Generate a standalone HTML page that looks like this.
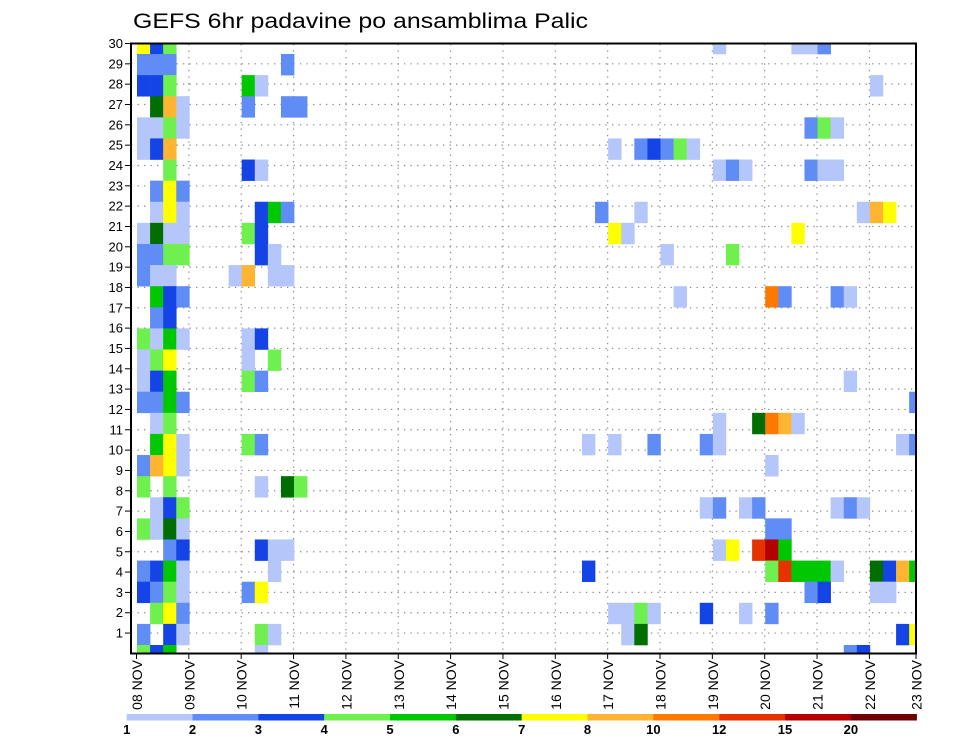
<!DOCTYPE html>
<html><head><meta charset="utf-8"><style>
html,body{margin:0;padding:0;background:#fff;}
svg{display:block;font-family:"Liberation Sans",sans-serif;}
</style></head><body>
<svg id="chart" width="960" height="742" viewBox="0 0 960 742" xmlns="http://www.w3.org/2000/svg">
<defs><clipPath id="plotclip"><rect x="131" y="43.5" width="785" height="610"/></clipPath></defs>
<rect x="0" y="0" width="960" height="742" fill="#fff"/>
<text x="133" y="28" font-size="21" textLength="455" lengthAdjust="spacingAndGlyphs" fill="#000">GEFS 6hr padavine po ansamblima Palic</text>
<g id="grid"></g>
<g id="cells" clip-path="url(#plotclip)"></g>
<rect x="131" y="43.5" width="785" height="610" fill="none" stroke="#000" stroke-width="2"/>
<g id="yaxis"></g>
<g id="xaxis"></g>
<g id="legend"></g>
</svg>
<script>
// level thresholds (mm) and colours
const levelLabels = ["1","2","3","4","5","6","7","8","10","12","15","20"];
const levelThresholds = [1,2,3,4,5,6,7,8,10,12,15,20];
const levelColors = ["#b4c6fa","#5f8cf5","#1444e6","#6ef04e","#00c800","#006e00","#ffff00","#ffb432","#ff7800","#e63200","#b40000","#6e0000"];
const memberLabels = [1,2,3,4,5,6,7,8,9,10,11,12,13,14,15,16,17,18,19,20,21,22,23,24,25,26,27,28,29,30];
const dayLabels = ["08 NOV","09 NOV","10 NOV","11 NOV","12 NOV","13 NOV","14 NOV","15 NOV","16 NOV","17 NOV","18 NOV","19 NOV","20 NOV","21 NOV","22 NOV","23 NOV"];
// cells: [row, 6h step, precipitation mm]
const precipCells = [
[29,0,7.5],[29,1,3.5],[29,2,4.5],[29,44,1.5],[29,50,1.5],[29,51,1.5],[29,52,2.5],
[28,0,2.5],[28,1,2.5],[28,2,2.5],[28,11,2.5],
[27,0,3.5],[27,1,3.5],[27,2,4.5],[27,8,5.5],[27,9,1.5],[27,56,1.5],
[26,1,6.5],[26,2,9],[26,3,1.5],[26,8,2.5],[26,11,2.5],[26,12,2.5],
[25,0,1.5],[25,1,1.5],[25,2,4.5],[25,3,1.5],[25,51,2.5],[25,52,4.5],[25,53,1.5],
[24,0,1.5],[24,1,3.5],[24,2,9],[24,36,1.5],[24,38,2.5],[24,39,3.5],[24,40,2.5],[24,41,4.5],[24,42,1.5],
[23,2,4.5],[23,8,3.5],[23,9,1.5],[23,44,1.5],[23,45,2.5],[23,46,1.5],[23,51,2.5],[23,52,1.5],[23,53,1.5],
[22,1,2.5],[22,2,7.5],[22,3,2.5],
[21,1,1.5],[21,2,7.5],[21,3,1.5],[21,9,3.5],[21,10,5.5],[21,11,2.5],[21,35,2.5],[21,38,1.5],[21,55,1.5],[21,56,9],[21,57,7.5],
[20,0,1.5],[20,1,6.5],[20,2,1.5],[20,3,1.5],[20,8,4.5],[20,9,3.5],[20,36,7.5],[20,37,1.5],[20,50,7.5],
[19,0,2.5],[19,1,2.5],[19,2,4.5],[19,3,4.5],[19,9,3.5],[19,10,1.5],[19,40,1.5],[19,45,4.5],
[18,0,2.5],[18,1,1.5],[18,2,1.5],[18,7,1.5],[18,8,9],[18,10,1.5],[18,11,1.5],
[17,1,5.5],[17,2,3.5],[17,3,2.5],[17,41,1.5],[17,48,11],[17,49,2.5],[17,53,2.5],[17,54,1.5],
[16,1,2.5],[16,2,3.5],
[15,0,4.5],[15,1,1.5],[15,2,5.5],[15,3,1.5],[15,8,1.5],[15,9,3.5],
[14,0,1.5],[14,1,4.5],[14,2,7.5],[14,8,1.5],[14,10,4.5],
[13,0,1.5],[13,1,3.5],[13,2,5.5],[13,8,4.5],[13,9,2.5],[13,54,1.5],
[12,0,2.5],[12,1,2.5],[12,2,5.5],[12,3,2.5],[12,59,2.5],
[11,1,1.5],[11,2,4.5],[11,44,1.5],[11,47,6.5],[11,48,11],[11,49,9],[11,50,1.5],
[10,1,5.5],[10,2,7.5],[10,3,1.5],[10,8,4.5],[10,9,2.5],[10,34,1.5],[10,36,1.5],[10,39,2.5],[10,43,2.5],[10,44,1.5],[10,58,1.5],[10,59,2.5],
[9,0,2.5],[9,1,9],[9,2,7.5],[9,3,1.5],[9,48,1.5],
[8,0,4.5],[8,2,4.5],[8,9,1.5],[8,11,6.5],[8,12,4.5],
[7,1,1.5],[7,2,3.5],[7,3,4.5],[7,43,1.5],[7,44,2.5],[7,46,1.5],[7,47,2.5],[7,53,1.5],[7,54,2.5],[7,55,1.5],
[6,0,4.5],[6,1,1.5],[6,2,6.5],[6,3,1.5],[6,48,2.5],[6,49,2.5],
[5,2,2.5],[5,3,3.5],[5,9,3.5],[5,10,1.5],[5,11,1.5],[5,44,1.5],[5,45,7.5],[5,47,13.5],[5,48,17.5],[5,49,5.5],
[4,0,2.5],[4,1,3.5],[4,2,5.5],[4,3,1.5],[4,10,1.5],[4,34,3.5],[4,48,4.5],[4,49,13.5],[4,50,5.5],[4,51,5.5],[4,52,5.5],[4,53,1.5],[4,56,6.5],[4,57,3.5],[4,58,9],[4,59,5.5],
[3,0,3.5],[3,1,2.5],[3,2,4.5],[3,3,1.5],[3,8,2.5],[3,9,7.5],[3,51,2.5],[3,52,3.5],[3,56,1.5],[3,57,1.5],
[2,1,4.5],[2,2,7.5],[2,3,2.5],[2,36,1.5],[2,37,1.5],[2,38,4.5],[2,39,1.5],[2,43,3.5],[2,46,1.5],[2,48,2.5],
[1,0,2.5],[1,2,3.5],[1,3,1.5],[1,9,4.5],[1,10,1.5],[1,37,1.5],[1,38,6.5],[1,58,3.5],[1,59,7.5],
[0,0,4.5],[0,1,3.5],[0,2,5.5],[0,9,1.5],[0,54,2.5],[0,55,3.5]
];

const NS = "http://www.w3.org/2000/svg";
function mk(tag, attrs, parent){ const e=document.createElementNS(NS,tag); for(const k in attrs) e.setAttribute(k,attrs[k]); parent.appendChild(e); return e; }
// axis functions
const dayW = 52.35, x0 = 137;
function xStep(s){ return x0 + s * dayW / 4; }
function xDay(d){ return Math.min(916, 136.5 + d * dayW); }
const rowH = 21.107;
function yRowTop(r){ return 645 - r * rowH; }
function yLabel(m){ return 43.5 + (30 - m) * 20.33; }
function colorFor(v){ let i=-1; for(let j=0;j<levelThresholds.length;j++){ if(v>=levelThresholds[j]) i=j; } return i<0?null:levelColors[i]; }

const grid = document.getElementById('grid');
memberLabels.forEach(m=>{ if(m>=30) return; const y=yLabel(m);
  const l=mk('line',{x1:131,x2:916,y1:y,y2:y,stroke:'#888','stroke-width':1.2,'stroke-dasharray':'1.3 5.2'},grid);
  
  
});
dayLabels.forEach((d,i)=>{ if(i===0||i===dayLabels.length-1) return; const x=xDay(i);
  const l=mk('line',{x1:x,x2:x,y1:44,y2:653,stroke:'#888','stroke-width':1.2,'stroke-dasharray':'1.3 5.2'},grid);
  
  
});

const cg = document.getElementById('cells');
precipCells.forEach(c=>{ const col=colorFor(c[2]); if(!col) return;
  const r=mk('rect',{x:xStep(c[1]),y:yRowTop(c[0]),width:dayW/4+0.3,height:rowH+0.3,fill:col},cg);
  
  
});

const ya=document.getElementById('yaxis');
memberLabels.forEach(m=>{ const y=yLabel(m);
  const t=mk('line',{x1:125,x2:131,y1:y,y2:y,stroke:'#000','stroke-width':1},ya);
  
  
  const tx=mk('text',{x:123,y:y+4.5,'font-size':13,'text-anchor':'end',fill:'#000'},ya);
  tx.textContent=m;
  
  
});

const xa=document.getElementById('xaxis');
dayLabels.forEach((d,i)=>{ const x=xDay(i);
  const t=mk('line',{x1:x,x2:x,y1:653,y2:659,stroke:'#000','stroke-width':1},xa);
  
  
  const tx=mk('text',{x:0,y:0,'font-size':14,'text-anchor':'end',fill:'#000',transform:'translate('+(x+5.5)+',660) rotate(-90)'},xa);
  tx.textContent=d;
  
  
});

const lg=document.getElementById('legend');
const lx0=126.7, lw=(916.7-126.7)/levelColors.length;
levelColors.forEach((c,i)=>{
  const r=mk('rect',{x:lx0+i*lw,y:714,width:lw+0.2,height:6.5,fill:c},lg);
  
  
});
levelLabels.forEach((t,i)=>{
  const tx=mk('text',{x:lx0+i*lw,y:734,'font-size':13,'font-weight':'bold','text-anchor':'middle',fill:'#000'},lg);
  tx.textContent=t;
  
  
});
</script>
</body></html>
